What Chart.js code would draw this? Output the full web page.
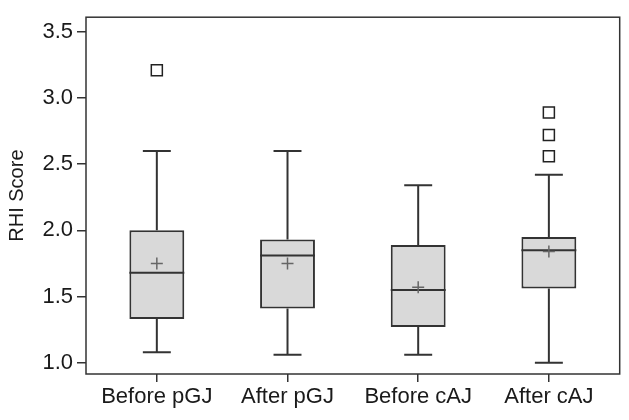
<!DOCTYPE html>
<html>
<head>
<meta charset="utf-8">
<script src="https://cdn.jsdelivr.net/npm/chart.js@4.4.1/dist/chart.umd.min.js"></script>
<style>
html, body { margin: 0; padding: 0; background: #fff; }
#wrap { width: 629px; height: 420px; }
</style>
</head>
<body>
<div id="wrap"><canvas id="chart" width="629" height="420"></canvas></div>
<script>
// Box plot data
const groups = ["Before pGJ", "After pGJ", "Before cAJ", "After cAJ"];
const whiskerLow = [1.08, 1.06, 1.06, 1.00];
const q1 = [1.33, 1.41, 1.27, 1.56];
const median = [1.68, 1.81, 1.55, 1.85];
const q3 = [2.00, 1.93, 1.89, 1.95];
const whiskerHigh = [2.60, 2.60, 2.34, 2.42];
const means = [1.75, 1.75, 1.57, 1.84];
const outliers = [[3.21], [], [], [2.89, 2.72, 2.56]];
const yTicks = [1.0, 1.5, 2.0, 2.5, 3.0, 3.5];

const INK = "#333333";
const BOX_FRAC = 0.42; // box width as share of group spacing
const CAP_HALF = 0.107;

// turn [x0, y0, x1, y1] segments into one line series with gaps
function toSegments(list) {
	const pts = [];
	list.forEach(([x0, y0, x1, y1]) => {
		pts.push({ x: x0, y: y0 }, { x: x1, y: y1 }, { x: x1, y: null });
	});
	return pts;
}

const whiskerSegs = [];
const medianSegs = [];
groups.forEach((g, i) => {
	const x = i + 1;
	whiskerSegs.push([x, whiskerLow[i], x, q1[i]]);
	whiskerSegs.push([x, q3[i], x, whiskerHigh[i]]);
	whiskerSegs.push([x - CAP_HALF, whiskerLow[i], x + CAP_HALF, whiskerLow[i]]);
	whiskerSegs.push([x - CAP_HALF, whiskerHigh[i], x + CAP_HALF, whiskerHigh[i]]);
	medianSegs.push([x - BOX_FRAC / 2, median[i], x + BOX_FRAC / 2, median[i]]);
});

const outlierPts = [];
outliers.forEach((list, i) => list.forEach((v) => outlierPts.push({ x: i + 1, y: v })));

// closed frame around the plot area
const framePlugin = {
	id: "frame",
	afterDraw(chart) {
		const { ctx, chartArea: a } = chart;
		ctx.save();
		ctx.strokeStyle = INK;
		ctx.lineWidth = 1.5;
		ctx.strokeRect(a.left, a.top, a.right - a.left, a.bottom - a.top);
		ctx.restore();
	},
};

const tickFont = { family: "'Liberation Sans', Arial, sans-serif", size: 22 };

new Chart(document.getElementById("chart"), {
	type: "bar",
	data: {
		datasets: [
			{
				type: "scatter",
				data: means.map((v, i) => ({ x: i + 1, y: v })),
				pointStyle: "cross",
				pointRadius: 6,
				borderColor: "#666666",
				borderWidth: 1.5,
				order: 0,
			},
			{
				type: "scatter",
				data: outlierPts,
				pointStyle: "rect",
				pointRadius: 7.8,
				backgroundColor: "#ffffff",
				borderColor: "#222222",
				borderWidth: 1.5,
				order: 0,
			},
			{
				type: "line",
				data: toSegments(medianSegs),
				borderColor: INK,
				borderWidth: 2,
				pointRadius: 0,
				spanGaps: false,
				order: 1,
			},
			{
				type: "line",
				data: toSegments(whiskerSegs),
				borderColor: INK,
				borderWidth: 2,
				pointRadius: 0,
				spanGaps: false,
				order: 2,
			},
			{
				type: "bar",
				data: groups.map((g, i) => ({ x: i + 1, y: [q1[i], q3[i]] })),
				backgroundColor: "#d9d9d9",
				borderColor: INK,
				borderWidth: 2,
				borderSkipped: false,
				categoryPercentage: 1,
				barPercentage: BOX_FRAC,
				order: 3,
			},
		],
	},
	options: {
		responsive: false,
		animation: false,
		layout: { padding: { top: 6, right: 8, left: 0, bottom: 0 } },
		plugins: {
			legend: { display: false },
			tooltip: { enabled: false },
		},
		scales: {
			x: {
				type: "linear",
				min: 0.458,
				max: 4.542,
				offset: false,
				afterBuildTicks: (scale) => {
					scale.ticks = groups.map((g, i) => ({ value: i + 1 }));
				},
				afterFit: (scale) => {
					scale.height = 46;
				},
				ticks: {
					callback: (value) => groups[Math.round(value) - 1],
					font: tickFont,
					color: "#1a1a1a",
					padding: 2,
					maxRotation: 0,
					autoSkip: false,
				},
				grid: {
					display: true,
					drawOnChartArea: false,
					offset: false,
					tickLength: 8,
					color: INK,
					lineWidth: 1.5,
				},
				border: { display: false },
			},
			y: {
				type: "linear",
				min: 0.915,
				max: 3.61,
				beginAtZero: false,
				afterBuildTicks: (scale) => {
					scale.ticks = yTicks.map((v) => ({ value: v }));
				},
				afterFit: (scale) => {
					scale.width = 86;
				},
				ticks: {
					callback: (value) => value.toFixed(1),
					font: tickFont,
					color: "#1a1a1a",
					padding: 4,
				},
				grid: {
					display: true,
					drawOnChartArea: false,
					tickLength: 9,
					color: INK,
					lineWidth: 1.5,
				},
				border: { display: false },
				title: {
					display: true,
					text: "RHI Score",
					font: { family: "'Liberation Sans', Arial, sans-serif", size: 20 },
					color: "#1a1a1a",
					padding: { top: 5, bottom: 0 },
				},
			},
		},
	},
	plugins: [framePlugin],
});
</script>
</body>
</html>
